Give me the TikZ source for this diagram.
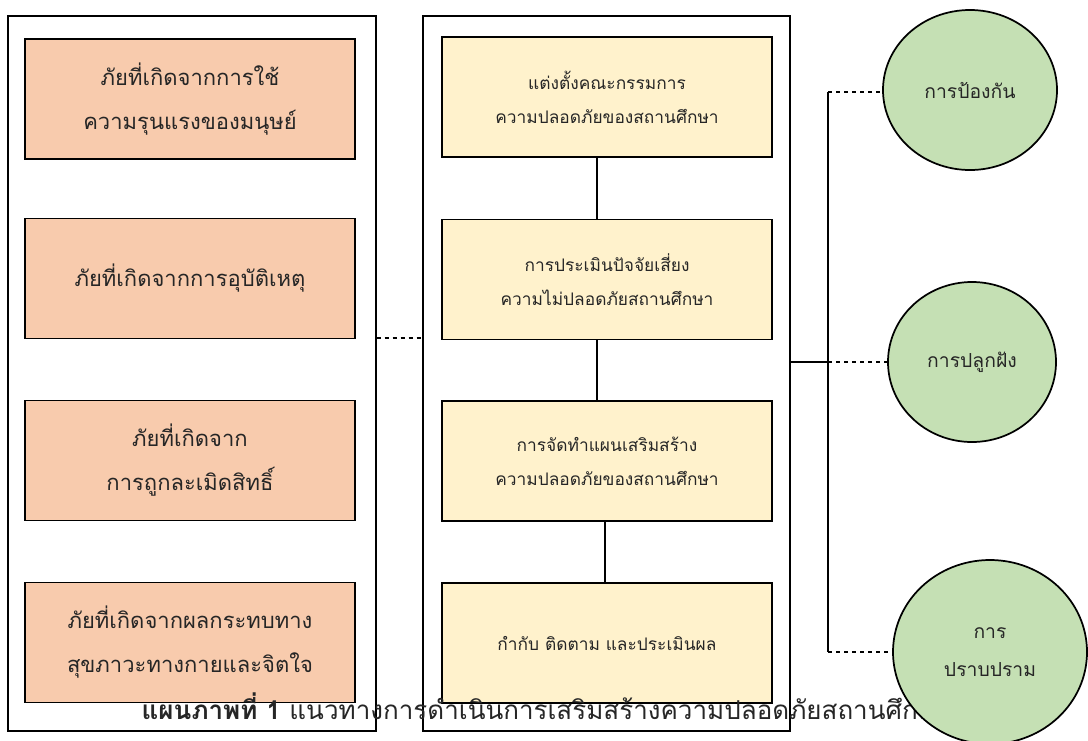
\documentclass[tikz,border=0pt]{standalone}
\usepackage{fontspec}
\setmainfont[Script=Thai]{Loma}
\usetikzlibrary{shapes.geometric, positioning, calc}
\definecolor{DangerColor}{RGB}{248,203,173}
\definecolor{StepColor}{RGB}{255,242,204}
\definecolor{GoalColor}{RGB}{197,224,180}
\definecolor{TextColor}{RGB}{38,38,38}
\tikzstyle{frame} = [draw, line width=1.6pt, minimum width=275.5pt, minimum height=536pt, inner sep=0pt]
\tikzstyle{danger} = [draw, line width=1.3pt, fill=DangerColor, minimum width=247.5pt, minimum height=90pt, align=center, text=TextColor, font=\fontsize{16.5}{33}\selectfont]
\tikzstyle{stepbox} = [draw, line width=1.2pt, fill=StepColor, minimum width=247.5pt, minimum height=90pt, align=center, text=TextColor, font=\fontsize{13}{25.5}\selectfont]
\tikzstyle{goal} = [draw, ellipse, line width=1.3pt, fill=GoalColor, inner sep=0pt, align=center, text=TextColor, font=\fontsize{14.5}{28.5}\selectfont]
\tikzstyle{link} = [line width=0.9pt]
\begin{document}
\begin{tikzpicture}[x=0.75pt, y=-0.75pt]
                \useasboundingbox (0,0) rectangle (1088,740);

                \node[frame] (dangers) at (192,373.5) {};
                \node[frame] (steps) at (606.5,373.5) {};

                \foreach \i/\y/\txt in {1/99/ภัยที่เกิดจากการใช้\\ความรุนแรงของมนุษย์,
                                        2/278.5/ภัยที่เกิดจากการอุบัติเหตุ,
                                        3/460.5/ภัยที่เกิดจาก\\การถูกละเมิดสิทธิ์,
                                        4/642.5/ภัยที่เกิดจากผลกระทบทาง\\สุขภาวะทางกายและจิตใจ} {
                    \node[danger] (d\i) at (190,\y) {\txt};
                }

                \foreach \i/\y/\txt in {1/97/แต่งตั้งคณะกรรมการ\\ความปลอดภัยของสถานศึกษา,
                                        2/279.5/การประเมินปัจจัยเสี่ยง\\ความไม่ปลอดภัยสถานศึกษา,
                                        3/461/การจัดทำแผนเสริมสร้าง\\ความปลอดภัยของสถานศึกษา,
                                        4/643/กำกับ ติดตาม และประเมินผล} {
                    \node[stepbox] (s\i) at (607,\y) {\txt};
                }

                \draw[link] ([xshift=-7.5pt]s1.south) -- ([xshift=-7.5pt]s2.north);
                \draw[link] ([xshift=-7.5pt]s2.south) -- ([xshift=-7.5pt]s3.north);
                \draw[link] ([xshift=-1.5pt]s3.south) -- ([xshift=-1.5pt]s4.north);

                \draw[link, dashed] ([yshift=26.6pt]dangers.east) -- ([yshift=26.6pt]steps.west);

                \node (caption) [anchor=west, text=TextColor, font=\fontsize{19.5}{22}\selectfont] at (137,706)
                    {\textbf{แผนภาพที่ 1} แนวทางการดำเนินการเสริมสร้างความปลอดภัยสถานศึกษา};

                \node[goal, minimum width=130.5pt, minimum height=120pt] (prevent) at (970,90) {การป้องกัน};
                \node[goal, minimum width=126pt, minimum height=120pt] (instill) at (972,362) {การปลูกฝัง};
                \node[goal, minimum width=145.5pt, minimum height=138pt] (suppress) at (990,652) {การ\\ปราบปราม};

                \coordinate (hub) at (828,362);
                \coordinate (top) at (828,92);
                \coordinate (bottom) at (828,652);
                \draw[link] (steps.east |- hub) -- (hub);
                \draw[link] (top) -- (bottom);
                \draw[link, dashed] (top) -- (prevent.west |- top);
                \draw[link, dashed] (hub) -- (instill.west);
                \draw[link, dashed] (bottom) -- (suppress.west);
            \end{tikzpicture}
\end{document}
